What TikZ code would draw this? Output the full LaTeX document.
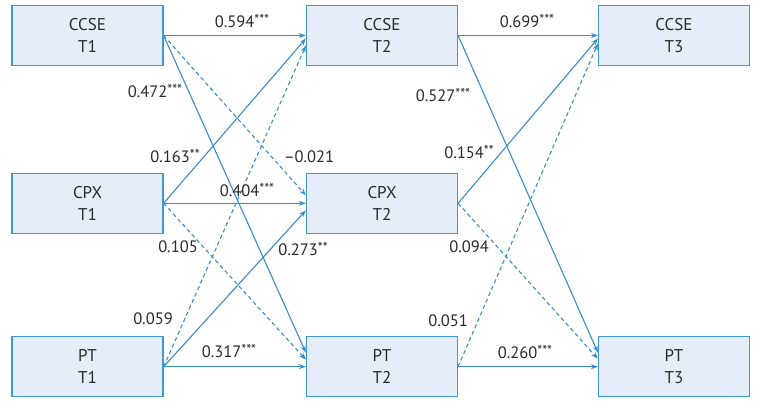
\documentclass[tikz,border=0pt]{standalone}
\usepackage{fontspec}
\setmainfont{PT Sans}
\usetikzlibrary{arrows.meta,calc}
\definecolor{boxborder}{HTML}{3F97D6}
\definecolor{boxfill}{HTML}{E4EDF8}
\definecolor{edgecol}{HTML}{3A8DCB}
\definecolor{txt}{HTML}{2A2A2A}
\newcommand{\sig}[1]{\raisebox{2.5pt}{\fontsize{14}{14}\selectfont #1}}
\tikzset{
  var/.style={draw=boxborder, fill=boxfill, line width=1.2pt, minimum width=151pt, minimum height=60pt,
    inner sep=0pt, align=center, text=txt, font=\fontsize{17}{21.5}\selectfont},
  path/.style={draw=edgecol, line width=1.1pt, -{Stealth[length=7pt,width=5pt]}},
  ns/.style={path, dash pattern=on 4pt off 3pt},
  coef/.style={text=txt, font=\fontsize{16.5}{16.5}\selectfont, inner sep=0pt}
}
\begin{document}
\begin{tikzpicture}[x=1pt,y=-1pt]
\useasboundingbox (0,0) rectangle (759,406);
\fill[white] (0,0) rectangle (759,406);
% boxes
\node[var] (c1) at (87.5,35.5) {CCSE\\T1};
\node[var] (x1) at (87.5,203.3) {CPX\\T1};
\node[var] (p1) at (87.5,366.7) {PT\\T1};
\node[var] (c2) at (382,35.5) {CCSE\\T2};
\node[var] (x2) at (382,203.3) {CPX\\T2};
\node[var] (p2) at (382,366.7) {PT\\T2};
\node[var] (c3) at (674,35.5) {CCSE\\T3};
\node[var] (p3) at (674,366.7) {PT\\T3};
% T1 -> T2
\draw[path] (c1.east) -- ($(c2.west)+(0,0)$);
\draw[path] (c1.east) -- ($(p2.west)+(0,-14)$);
\draw[ns]   (c1.east) -- ($(x2.west)+(0,-8)$);
\draw[path] (x1.east) -- ($(c2.west)+(0,3)$);
\draw[path] (x1.east) -- (x2.west);
\draw[ns]   (x1.east) -- ($(p2.west)+(0,-7)$);
\draw[ns]   (p1.east) -- ($(c2.west)+(0,10)$);
\draw[path] (p1.east) -- ($(x2.west)+(0,7)$);
\draw[path] (p1.east) -- (p2.west);
% T2 -> T3
\draw[path] (c2.east) -- (c3.west);
\draw[path] (c2.east) -- ($(p3.west)+(0,-14)$);
\draw[path] (x2.east) -- ($(c3.west)+(0,3)$);
\draw[ns]   (x2.east) -- ($(p3.west)+(0,-8)$);
\draw[ns]   (p2.east) -- ($(c3.west)+(0,8)$);
\draw[path] (p2.east) -- (p3.west);
% coefficients
\node[coef] (l1) at (242,21) {0.594\sig{***}};
\node[coef] (l2) at (155,91) {0.472\sig{***}};
\node[coef] (l3) at (175,156) {0.163\sig{**}};
\node[coef] (l4) at (309,157) {\textendash0.021};
\node[coef] (l5) at (247,190) {0.404\sig{***}};
\node[coef] (l6) at (178,247) {0.105};
\node[coef] (l7) at (303,249) {0.273\sig{**}};
\node[coef] (l8) at (153,319) {0.059};
\node[coef] (l9) at (229,351) {0.317\sig{***}};
\node[coef] (m1) at (527,21) {0.699\sig{***}};
\node[coef] (m2) at (443,95) {0.527\sig{***}};
\node[coef] (m3) at (469,152) {0.154\sig{**}};
\node[coef] (m4) at (469,247) {0.094};
\node[coef] (m5) at (448,321) {0.051};
\node[coef] (m6) at (525,352) {0.260\sig{***}};
\end{tikzpicture}
\end{document}
